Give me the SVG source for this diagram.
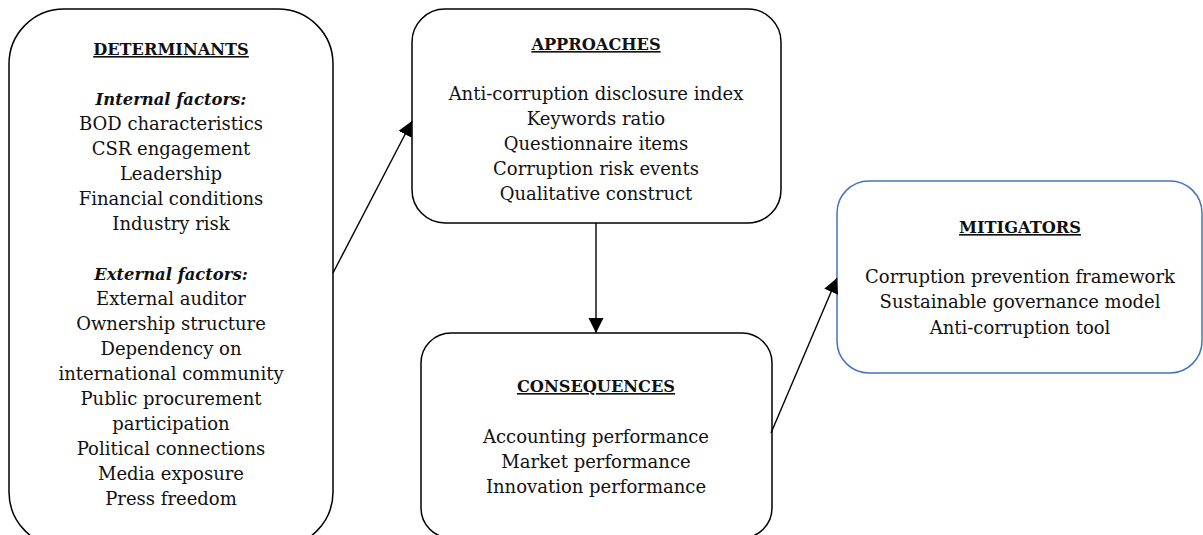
<svg xmlns="http://www.w3.org/2000/svg" width="1203" height="535" viewBox="0 0 1203 535">
  <style>
    .box { fill: #ffffff; stroke: #000000; stroke-width: 1.5; }
    .blue { stroke: #4472C4; }
    text { font-family: "DejaVu Serif", "Liberation Serif", serif; font-size: 18px; fill: #111111; text-anchor: middle; }
    .title { font-weight: bold; text-decoration: underline; font-size: 16.2px; }
    .sub { font-weight: bold; font-style: italic; font-size: 16.4px; }
    .conn { fill: none; stroke: #000000; stroke-width: 1.4; }
  </style>
  <defs>
    <marker id="arrow" markerUnits="userSpaceOnUse" markerWidth="16" markerHeight="16" refX="15" refY="7.5" orient="auto">
      <path d="M0,0 L15,7.5 L0,15 Z" fill="#000000"/>
    </marker>
  </defs>
  <rect width="1203" height="535" fill="#ffffff"/>

  <g id="determinants">
    <rect class="box" x="9" y="9" width="324" height="538" rx="55" ry="55"/>
    <text class="title" x="171" y="55">DETERMINANTS</text>
    <text class="sub" x="171" y="105">Internal factors:</text>
    <text x="171" y="130">BOD characteristics</text>
    <text x="171" y="155">CSR engagement</text>
    <text x="171" y="180">Leadership</text>
    <text x="171" y="205">Financial conditions</text>
    <text x="171" y="230">Industry risk</text>
    <text class="sub" x="171" y="280">External factors:</text>
    <text x="171" y="305">External auditor</text>
    <text x="171" y="330">Ownership structure</text>
    <text x="171" y="355">Dependency on</text>
    <text x="171" y="380">international community</text>
    <text x="171" y="405">Public procurement</text>
    <text x="171" y="430">participation</text>
    <text x="171" y="455">Political connections</text>
    <text x="171" y="480">Media exposure</text>
    <text x="171" y="505">Press freedom</text>
  </g>

  <g id="approaches">
    <rect class="box" x="412" y="9" width="369" height="214" rx="33" ry="33"/>
    <text class="title" x="596" y="50">APPROACHES</text>
    <text x="596" y="100">Anti-corruption disclosure index</text>
    <text x="596" y="125">Keywords ratio</text>
    <text x="596" y="150">Questionnaire items</text>
    <text x="596" y="175">Corruption risk events</text>
    <text x="596" y="200">Qualitative construct</text>
  </g>

  <g id="consequences">
    <rect class="box" x="421" y="333" width="351" height="205" rx="30" ry="30"/>
    <text class="title" x="596" y="392">CONSEQUENCES</text>
    <text x="596" y="443">Accounting performance</text>
    <text x="596" y="468">Market performance</text>
    <text x="596" y="493">Innovation performance</text>
  </g>

  <g id="mitigators">
    <rect class="box blue" x="837" y="181" width="365" height="192" rx="32" ry="32"/>
    <text class="title" x="1020" y="233">MITIGATORS</text>
    <text x="1020" y="283">Corruption prevention framework</text>
    <text x="1020" y="308">Sustainable governance model</text>
    <text x="1020" y="334">Anti-corruption tool</text>
  </g>

  <g id="connectors">
    <line class="conn" x1="333" y1="273" x2="412" y2="121" marker-end="url(#arrow)"/>
    <line class="conn" x1="596" y1="223" x2="596" y2="333" marker-end="url(#arrow)"/>
    <line class="conn" x1="771" y1="433" x2="837" y2="278" marker-end="url(#arrow)"/>
  </g>
</svg>
